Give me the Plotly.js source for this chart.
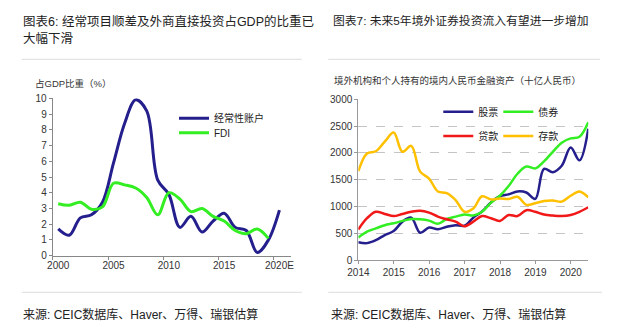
<!DOCTYPE html>
<html>
<head>
<meta charset="utf-8">
<script src="https://cdn.plot.ly/plotly-3.0.1.min.js"></script>
<style>
  html, body { margin: 0; padding: 0; background: #fff; }
  #chart { width: 617px; height: 333px; }
</style>
</head>
<body>
<div id="chart"></div>
<script>
// ---------- Left chart: share of GDP (%) ----------
const leftYears = [2000,2001,2002,2003,2004,2005,2006,2007,2008,2009,2010,2011,2012,2013,2014,2015,2016,2017,2018,2019,2020];
const currentAccount = [1.7,1.3,2.4,2.6,3.4,5.9,8.4,9.9,9.2,4.8,3.9,1.8,2.5,1.5,2.2,2.7,1.8,1.6,0.2,1.0,2.9];
const fdiYears = [2000,2001,2002,2003,2004,2005,2006,2007,2008,2009,2010,2011,2012,2013,2014,2015,2016,2017,2018,2019];
const fdi = [3.3,3.2,3.4,2.95,3.1,4.6,4.5,4.3,3.7,2.6,4.0,3.6,2.8,3.0,2.5,2.2,1.6,1.4,1.7,1.1];
const leftTickVals = [2000,2005,2010,2015,2020];
const leftTickText = ['2000','2005','2010','2015','2020E'];

// ---------- Right chart: RMB financial assets held by foreigners (bn RMB) ----------
const quarters = ['2013-12-31','2014-03-31','2014-06-30','2014-09-30','2014-12-31','2015-03-31','2015-06-30','2015-09-30','2015-12-31',
  '2016-03-31','2016-06-30','2016-09-30','2016-12-31','2017-03-31','2017-06-30','2017-09-30','2017-12-31',
  '2018-03-31','2018-06-30','2018-09-30','2018-12-31','2019-03-31','2019-06-30','2019-09-30','2019-12-31','2020-03-31','2020-06-30'];
const stocks   = [330,315,370,465,540,715,790,510,605,575,620,650,640,790,905,1075,1190,1225,1280,1260,1140,1700,1640,1760,2100,1860,2450];
const bonds    = [420,530,590,650,685,730,765,760,735,675,765,810,850,830,900,1070,1200,1380,1610,1745,1710,1840,2020,2190,2270,2300,2570];
const loans    = [570,780,900,860,820,860,900,920,885,810,760,715,630,715,820,780,730,840,820,930,900,850,830,820,840,900,985];
const deposits = [1660,1990,2030,2210,2380,2020,2130,1650,1520,1280,1250,1120,900,960,1190,1130,1150,1140,1180,1030,1060,1100,1110,1090,1200,1280,1170];

const FONT = "'Liberation Sans', Arial, 'Noto Sans CJK SC', sans-serif";
const W = 617, H = 333;
const px = v => v / W;
const py = v => 1 - v / H;

const NAVY = '#241f8c', GREEN = '#33ee22', RED = '#f01818', GOLD = '#ffc000';

const traces = [
  { x: leftYears, y: currentAccount, name: '经常性账户', type: 'scatter', mode: 'lines',
    line: { color: NAVY, width: 3, shape: 'spline' }, xaxis: 'x', yaxis: 'y', legend: 'legend3' },
  { x: fdiYears, y: fdi, name: 'FDI', type: 'scatter', mode: 'lines',
    line: { color: GREEN, width: 3, shape: 'spline' }, xaxis: 'x', yaxis: 'y', legend: 'legend4' },
  { x: quarters, y: stocks, name: '股票', type: 'scatter', mode: 'lines',
    line: { color: NAVY, width: 2.5, shape: 'spline' }, xaxis: 'x2', yaxis: 'y2', legend: 'legend' },
  { x: quarters, y: bonds, name: '债券', type: 'scatter', mode: 'lines',
    line: { color: GREEN, width: 2.5, shape: 'spline' }, xaxis: 'x2', yaxis: 'y2', legend: 'legend' },
  { x: quarters, y: loans, name: '贷款', type: 'scatter', mode: 'lines',
    line: { color: RED, width: 2.5, shape: 'spline' }, xaxis: 'x2', yaxis: 'y2', legend: 'legend2' },
  { x: quarters, y: deposits, name: '存款', type: 'scatter', mode: 'lines',
    line: { color: GOLD, width: 2.5, shape: 'spline' }, xaxis: 'x2', yaxis: 'y2', legend: 'legend2' }
];

const legendBase = {
  bgcolor: 'rgba(0,0,0,0)', borderwidth: 0, font: { family: FONT, size: 10, color: '#222' },
  xanchor: 'left', yanchor: 'middle', xref: 'paper', yref: 'paper', itemclick: false
};

const layout = {
  width: W, height: H,
  margin: { l: 0, r: 0, t: 0, b: 0 },
  paper_bgcolor: '#fff', plot_bgcolor: 'rgba(0,0,0,0)',
  font: { family: FONT, size: 10, color: '#333' },
  showlegend: true,
  xaxis: {
    domain: [px(52.7), px(290.5)], range: [1999.5, 2021], anchor: 'y',
    tickmode: 'array', tickvals: leftTickVals, ticktext: leftTickText, ticks: '',
    minor: { tick0: 1999.5, dtick: 5, ticks: 'outside', ticklen: 3, tickcolor: '#888', showgrid: false },
    showline: true, linecolor: '#888', linewidth: 1, showgrid: false, zeroline: false,
    tickfont: { family: FONT, size: 10, color: '#333' }, fixedrange: true
  },
  yaxis: {
    domain: [py(255.7), py(98.3)], range: [0, 10], anchor: 'x', dtick: 1, tick0: 0,
    ticks: 'outside', ticklen: 3, tickcolor: '#888',
    showline: true, linecolor: '#888', linewidth: 1, showgrid: false, zeroline: false,
    tickfont: { family: FONT, size: 10, color: '#333' }, fixedrange: true
  },
  xaxis2: {
    domain: [px(358.3), px(588.3)], range: ['2013-12-31', '2020-06-30'], anchor: 'y2', type: 'date',
    tick0: '2014-01-01', dtick: 'M12', tickformat: '%Y', ticks: 'outside', ticklen: 3, tickcolor: '#999',
    showline: true, linecolor: '#999', linewidth: 1, showgrid: false, zeroline: false,
    tickfont: { family: FONT, size: 10, color: '#333' }, fixedrange: true
  },
  yaxis2: {
    domain: [py(260), py(99.3)], range: [0, 3000], anchor: 'x2', dtick: 500, tick0: 0,
    ticks: 'outside', ticklen: 3, tickcolor: '#999',
    showline: true, linecolor: '#999', linewidth: 1,
    showgrid: true, gridcolor: '#c4c4c4', griddash: 'dash', gridwidth: 1, zeroline: false,
    tickfont: { family: FONT, size: 10, color: '#333' }, fixedrange: true
  },
  legend3: Object.assign({}, legendBase, { x: px(174), y: py(118.3), orientation: 'v' }),
  legend4: Object.assign({}, legendBase, { x: px(174), y: py(132.7), orientation: 'v' }),
  legend: Object.assign({}, legendBase, { x: px(438.3), y: py(111.7), orientation: 'h', entrywidth: 15, entrywidthmode: 'pixels' }),
  legend2: Object.assign({}, legendBase, { x: px(438.3), y: py(136), orientation: 'h', entrywidth: 15, entrywidthmode: 'pixels' }),
  shapes: [
    { type: 'line', xref: 'paper', yref: 'paper', x0: px(21.7), x1: px(301.7), y0: py(59.3), y1: py(59.3), line: { color: '#dcdcdc', width: 1 } },
    { type: 'line', xref: 'paper', yref: 'paper', x0: px(328.3), x1: px(600), y0: py(59.3), y1: py(59.3), line: { color: '#dcdcdc', width: 1 } },
    { type: 'line', xref: 'paper', yref: 'paper', x0: px(21.7), x1: px(301.7), y0: py(292.3), y1: py(292.3), line: { color: '#dcdcdc', width: 1 } },
    { type: 'line', xref: 'paper', yref: 'paper', x0: px(328.3), x1: px(602), y0: py(292.3), y1: py(292.3), line: { color: '#dcdcdc', width: 1 } }
  ],
  annotations: [
    { text: '图表6: 经常项目顺差及外商直接投资占GDP的比重已', x: px(21), y: py(21), xref: 'paper', yref: 'paper',
      xanchor: 'left', yanchor: 'middle', showarrow: false, font: { family: FONT, size: 12.5, color: '#222' } },
    { text: '大幅下滑', x: px(21), y: py(38.5), xref: 'paper', yref: 'paper',
      xanchor: 'left', yanchor: 'middle', showarrow: false, font: { family: FONT, size: 12.5, color: '#222' } },
    { text: '图表7: 未来5年境外证券投资流入有望进一步增加', x: px(331), y: py(21), xref: 'paper', yref: 'paper',
      xanchor: 'left', yanchor: 'middle', showarrow: false, font: { family: FONT, size: 11.8, color: '#222' } },
    { text: '占GDP比重（%）', x: px(32.5), y: py(83.3), xref: 'paper', yref: 'paper',
      xanchor: 'left', yanchor: 'middle', showarrow: false, font: { family: FONT, size: 9.5, color: '#333' } },
    { text: '境外机构和个人持有的境内人民币金融资产（十亿人民币）', x: px(332), y: py(80.7), xref: 'paper', yref: 'paper',
      xanchor: 'left', yanchor: 'middle', showarrow: false, font: { family: FONT, size: 9.5, color: '#333' } },
    { text: '来源: CEIC数据库、Haver、万得、瑞银估算', x: px(21), y: py(314), xref: 'paper', yref: 'paper',
      xanchor: 'left', yanchor: 'middle', showarrow: false, font: { family: FONT, size: 12, color: '#222' } },
    { text: '来源: CEIC数据库、Haver、万得、瑞银估算', x: px(329), y: py(314), xref: 'paper', yref: 'paper',
      xanchor: 'left', yanchor: 'middle', showarrow: false, font: { family: FONT, size: 12, color: '#222' } }
  ]
};

Plotly.newPlot('chart', traces, layout, { staticPlot: true, displayModeBar: false });
</script>
</body>
</html>
